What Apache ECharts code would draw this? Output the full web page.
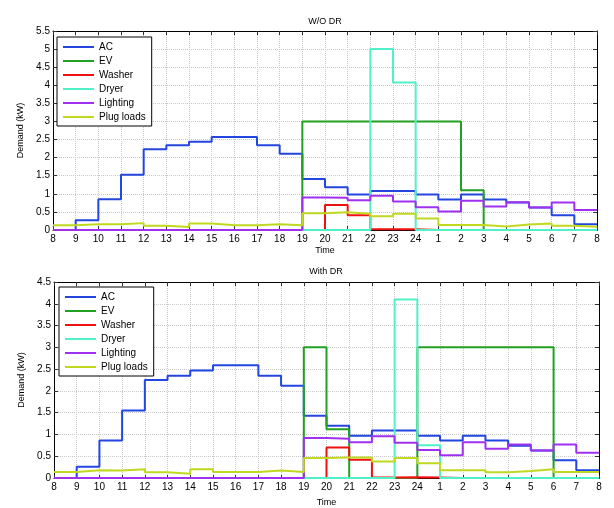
<!DOCTYPE html>
<html><head><meta charset="utf-8">
<script src="https://cdn.jsdelivr.net/npm/echarts@6/dist/echarts.min.js"></script>
<style>html,body{margin:0;padding:0;background:#fff}#c{width:614px;height:508px}</style>
</head><body><div id="c"></div>
<script>
// hour slots starting 8:00 through next day 8:00 (24 slots)
const hourLabels = [8,9,10,11,12,13,14,15,16,17,18,19,20,21,22,23,24,1,2,3,4,5,6,7,8];
const seriesNames = ['AC','EV','Washer','Dryer','Lighting','Plug loads'];
const seriesColors = ['#2346e0','#22a022','#f01010','#50f0c8','#a030f0','#c0d820'];

// W/O DR
const acNoDR      = [0,0.27,0.85,1.53,2.23,2.34,2.44,2.57,2.57,2.34,2.11,1.41,1.18,0.98,1.08,1.08,0.98,0.84,0.98,0.84,0.76,0.62,0.41,0.16];
const evNoDR      = [0,0,0,0,0,0,0,0,0,0,0,3,3,3,3,3,3,3,1.1,0,0,0,0,0];
const washerNoDR  = [0,0,0,0,0,0,0,0,0,0,0,0,0.69,0.41,0.02,0.02,0,0,0,0,0,0,0,0];
const dryerNoDR   = [0,0,0,0,0,0,0,0,0,0,0,0,0,0,5.0,4.08,0,0,0,0,0,0,0,0];
const lightNoDR   = [0,0,0,0,0,0,0,0,0,0,0,0.9,0.89,0.82,0.95,0.79,0.63,0.51,0.81,0.65,0.77,0.62,0.76,0.55];
const plugNoDR    = [0.13,0.16,0.16,0.19,0.12,0.08,0.18,0.13,0.13,0.16,0.13,0.46,0.49,0.45,0.38,0.45,0.32,0.14,0.14,0.10,0.15,0.18,0.12,0.09];

// With DR
const acDR        = [0,0.26,0.86,1.55,2.25,2.35,2.47,2.59,2.59,2.35,2.12,1.43,1.2,0.97,1.09,1.09,0.97,0.86,0.97,0.86,0.74,0.63,0.41,0.18];
const evDR        = [0,0,0,0,0,0,0,0,0,0,0,3,1.12,0,0,0,3,3,3,3,3,3,0,0];
const washerDR    = [0,0,0,0,0,0,0,0,0,0,0,0,0.7,0.42,0.01,0.02,0.01,0,0,0,0,0,0,0];
const dryerDR     = [0,0,0,0,0,0,0,0,0,0,0,0,0,0,0,4.1,0.75,0,0,0,0,0,0,0];
const lightDR     = [0,0,0,0,0,0,0,0,0,0,0,0.92,0.9,0.82,0.96,0.81,0.64,0.52,0.82,0.67,0.77,0.63,0.77,0.58];
const plugDR      = [0.14,0.18,0.17,0.2,0.13,0.1,0.2,0.14,0.14,0.17,0.14,0.46,0.47,0.47,0.38,0.46,0.34,0.18,0.18,0.13,0.16,0.2,0.14,0.14];

const topSets = [acNoDR,evNoDR,washerNoDR,dryerNoDR,lightNoDR,plugNoDR];
const botSets = [acDR,evDR,washerDR,dryerDR,lightDR,plugDR];

function stepData(arr){
  const d = arr.map((v,i)=>[i,v]);
  d.push([arr.length, arr[arr.length-1]]);
  return d;
}
const font = 'Liberation Sans, Arial, sans-serif';
const tickColor = '#333';
const grids = [
  {left:53, top:31, width:544, height:199},
  {left:54, top:282, width:545, height:197}
];
function mainX(gi){
  return {type:'value', gridIndex:gi, min:0, max:24, interval:1, position:'bottom',
    axisLine:{show:true, onZero:false, lineStyle:{color:'#000'}},
    axisTick:{show:false},
    axisLabel:{show:true, margin:4, color:'#000', fontSize:10, fontFamily:font,
      formatter:v=>String(hourLabels[v])},
    splitLine:{show:true, lineStyle:{type:'dotted', color:'#c8c8c8'}},
    name:'Time', nameLocation:'middle', nameGap: gi===0 ? 16 : 20,
    nameTextStyle:{color:'#000', fontSize:9, fontFamily:font}};
}
function mainY(gi, mx){
  return {type:'value', gridIndex:gi, min:0, max:mx, interval:0.5, position:'left',
    axisLine:{show:true, onZero:false, lineStyle:{color:'#000'}},
    axisTick:{show:false},
    axisLabel:{show:true, margin:3, color:'#000', fontSize:10, fontFamily:font},
    splitLine:{show:true, lineStyle:{type:'dotted', color:'#c8c8c8'}},
    name:'Demand (kW)', nameLocation:'middle', nameGap:23,
    nameTextStyle:{color:'#000', fontSize:9, fontFamily:font}};
}
// tick-only axes placed along a frame edge; ticks point into the plot
function tickX(gi, offset, inside, line){
  return {type:'value', gridIndex:gi, min:0, max:24, interval:1, position:'top', offset:offset,
    axisLine:{show:line, onZero:false, lineStyle:{color:'#000'}},
    axisTick:{show:true, inside:inside, length:4, lineStyle:{color:tickColor}},
    axisLabel:{show:false}, splitLine:{show:false}};
}
function tickY(gi, mx, offset, inside, line){
  return {type:'value', gridIndex:gi, min:0, max:mx, interval:0.5, position:'right', offset:offset,
    axisLine:{show:line, onZero:false, lineStyle:{color:'#000'}},
    axisTick:{show:true, inside:inside, length:4, lineStyle:{color:tickColor}},
    axisLabel:{show:false}, splitLine:{show:false}};
}
const series = [];
[topSets, botSets].forEach((sets, gi)=>{
  sets.forEach((arr, k)=>{
    series.push({type:'line', name:seriesNames[k], xAxisIndex:gi*3, yAxisIndex:gi*3,
      step:'end', showSymbol:false, clip:false, data:stepData(arr),
      lineStyle:{width:2, color:seriesColors[k]}, itemStyle:{color:seriesColors[k]},
      emphasis:{disabled:true}, animation:false});
  });
});
function legend(left, top){
  return {orient:'vertical', left:left, top:top, data:seriesNames,
    icon:'rect', itemWidth:31, itemHeight:2, itemGap:2,
    padding:[4,6,3,6], borderColor:'#000', borderWidth:1, backgroundColor:'#fff',
    textStyle:{fontSize:10, fontFamily:font, color:'#000', lineHeight:12},
    selectedMode:false};
}
const option = {
  backgroundColor:'#fff',
  animation:false,
  grid: grids,
  xAxis:[mainX(0), tickX(0,0,true,true), tickX(0,-199,false,false),
         mainX(1), tickX(1,0,true,true), tickX(1,-197,false,false)],
  yAxis:[mainY(0,5.5), tickY(0,5.5,0,true,true), tickY(0,5.5,-544,false,false),
         mainY(1,4.5), tickY(1,4.5,0,true,true), tickY(1,4.5,-545,false,false)],
  legend:[legend(57,37), legend(59,287)],
  graphic:[
    {type:'text', x:325, y:22, style:{text:'W/O DR', textAlign:'center', textVerticalAlign:'middle', fontSize:9, fontFamily:font, fill:'#000'}},
    {type:'text', x:326, y:272, style:{text:'With DR', textAlign:'center', textVerticalAlign:'middle', fontSize:9, fontFamily:font, fill:'#000'}}
  ],
  series: series
};
echarts.init(document.getElementById('c'), null, {renderer:'canvas'}).setOption(option);
</script></body></html>
